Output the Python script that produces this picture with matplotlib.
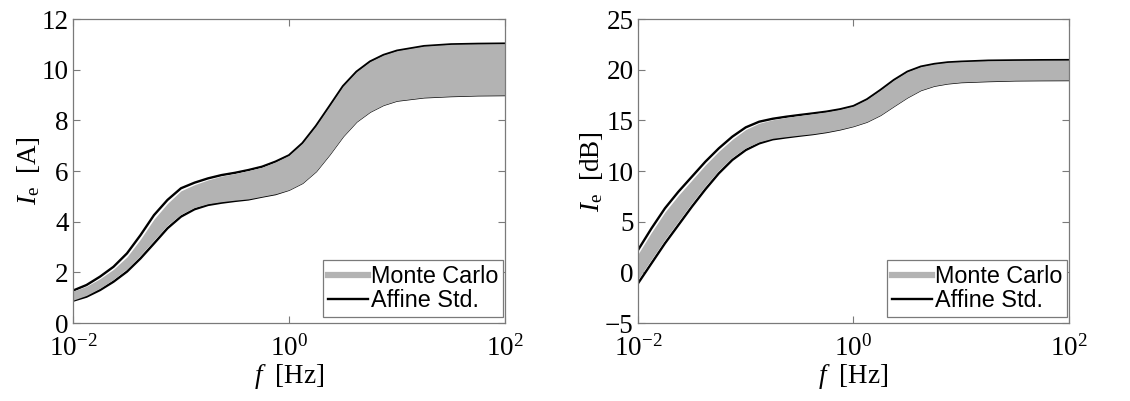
import numpy as np
import matplotlib
matplotlib.use('Agg')
import matplotlib.pyplot as plt
from matplotlib.lines import Line2D

plt.rcParams['mathtext.fontset'] = 'custom'
plt.rcParams['mathtext.rm'] = 'Liberation Serif'
plt.rcParams['mathtext.it'] = 'Liberation Serif:italic'
plt.rcParams['font.family'] = 'Liberation Serif'

# frequencies (log10 of Hz)
log_f = [-2.0, -1.875, -1.75, -1.625, -1.5, -1.375, -1.25, -1.125, -1.0,
         -0.875, -0.75, -0.625, -0.5, -0.375, -0.25, -0.125, 0.0,
         0.125, 0.25, 0.375, 0.5, 0.625, 0.75, 0.875, 1.0,
         1.25, 1.5, 1.75, 2.0]

# left panel: current in A
amp_aff_up = [1.28, 1.5, 1.83, 2.22, 2.75, 3.47, 4.26, 4.86, 5.32,
              5.54, 5.71, 5.84, 5.93, 6.04, 6.17, 6.37, 6.62,
              7.1, 7.78, 8.56, 9.35, 9.92, 10.32, 10.58, 10.75,
              10.93, 11.0, 11.02, 11.03]
amp_aff_lo = [0.88, 1.04, 1.30, 1.63, 2.03, 2.55, 3.14, 3.74, 4.2,
              4.49, 4.66, 4.75, 4.82, 4.88, 4.99, 5.09, 5.26,
              5.53, 5.99, 6.65, 7.37, 7.95, 8.34, 8.61, 8.78,
              8.91, 8.96, 8.99, 9.0]
amp_mc_up = [1.26, 1.45, 1.75, 2.12, 2.61, 3.31, 4.10, 4.72, 5.22,
             5.46, 5.65, 5.80, 5.90, 6.02, 6.15, 6.36, 6.62,
             7.1, 7.78, 8.56, 9.35, 9.92, 10.32, 10.58, 10.75,
             10.93, 11.0, 11.02, 11.03]
amp_mc_lo = [0.90, 1.09, 1.37, 1.72, 2.14, 2.68, 3.27, 3.86, 4.29,
             4.56, 4.71, 4.79, 4.85, 4.90, 5.0, 5.1, 5.26,
             5.53, 5.99, 6.65, 7.37, 7.95, 8.34, 8.61, 8.78,
             8.91, 8.96, 8.99, 9.0]

# right panel: current in dB
db_aff_up = [2.2, 4.34, 6.32, 7.96, 9.44, 10.92, 12.24, 13.39, 14.31,
             14.87, 15.16, 15.36, 15.53, 15.69, 15.86, 16.09, 16.41,
             17.07, 17.99, 18.98, 19.80, 20.30, 20.56, 20.72, 20.79,
             20.89, 20.92, 20.94, 20.95]
db_aff_lo = [-1.09, 0.89, 2.86, 4.67, 6.48, 8.19, 9.77, 11.09, 12.07,
             12.73, 13.13, 13.32, 13.49, 13.65, 13.85, 14.11, 14.44,
             14.87, 15.53, 16.41, 17.27, 17.99, 18.42, 18.65, 18.78,
             18.88, 18.95, 18.97, 18.98]
db_mc_up = [1.8, 3.95, 5.95, 7.6, 9.1, 10.6, 11.95, 13.12, 14.1,
            14.72, 15.06, 15.29, 15.48, 15.66, 15.84, 16.08, 16.41,
            17.07, 17.99, 18.98, 19.80, 20.30, 20.56, 20.72, 20.79,
            20.89, 20.92, 20.94, 20.95]
db_mc_lo = [-0.7, 1.28, 3.24, 5.04, 6.84, 8.53, 10.08, 11.36, 12.28,
            12.88, 13.23, 13.39, 13.54, 13.68, 13.87, 14.12, 14.44,
            14.87, 15.53, 16.41, 17.27, 17.99, 18.42, 18.65, 18.78,
            18.88, 18.95, 18.97, 18.98]

f = 10.0 ** np.array(log_f)
gray = '#b3b3b3'
frame = '#7a7a7a'

fig = plt.figure(figsize=(11.3, 4.01), dpi=100)
ax1 = fig.add_axes([0.0646, 0.1945, 0.3823, 0.758])
ax2 = fig.add_axes([0.5646, 0.1945, 0.3814, 0.758])


def draw(ax, mc_up, mc_lo, aff_up, aff_lo, ylim, yticks, ylabel):
    ax.plot(f, aff_up, color='black', lw=1.7, zorder=2)
    ax.plot(f, aff_lo, color='black', lw=1.7, zorder=2)
    ax.fill_between(f, mc_lo, mc_up, color=gray, lw=0, zorder=3)
    ax.set_xscale('log')
    ax.set_xlim(1e-2, 1e2)
    ax.set_ylim(*ylim)
    ax.set_xticks([1e-2, 1e0, 1e2])
    ax.set_xticklabels([r'$10^{-2}$', r'$10^{0}$', r'$10^{2}$'])
    ax.minorticks_off()
    ax.set_yticks(yticks)
    ax.set_yticklabels([str(t).replace('-', '\u2212') for t in yticks])
    ax.tick_params(direction='in', top=True, right=True, length=5,
                   width=0.8, color=frame, labelsize=19.5)
    ax.tick_params(axis='x', pad=9)
    ax.tick_params(axis='y', pad=3)
    for s in ax.spines.values():
        s.set_color(frame)
        s.set_linewidth(0.9)
        s.set_zorder(4)
    ax.set_xlabel(r'$f\ \ [\mathrm{Hz}]$', fontsize=19.5, labelpad=0)
    ax.set_ylabel(ylabel, fontsize=19.5, labelpad=0)
    handles = [Line2D([], [], color=gray, lw=4.5),
               Line2D([], [], color='black', lw=1.7)]
    leg = ax.legend(handles, ['Monte Carlo', 'Affine Std.'], loc='lower right',
                    bbox_to_anchor=(0.995, 0.02), borderaxespad=0,
                    prop={'family': 'Liberation Sans', 'size': 16.8},
                    fancybox=False, framealpha=1, edgecolor=frame,
                    handlelength=1.75, handletextpad=0.1, borderpad=0.2,
                    labelspacing=0.05)
    leg.get_frame().set_linewidth(0.9)
    leg.set_zorder(5)


draw(ax1, amp_mc_up, amp_mc_lo, amp_aff_up, amp_aff_lo, (0, 12),
     [0, 2, 4, 6, 8, 10, 12], r'$I_{\mathrm{e}}\ \ [\mathrm{A}]$')
draw(ax2, db_mc_up, db_mc_lo, db_aff_up, db_aff_lo, (-5, 25),
     [-5, 0, 5, 10, 15, 20, 25], r'$I_{\mathrm{e}}\ \ [\mathrm{dB}]$')

fig.savefig('out.png', dpi=100)
